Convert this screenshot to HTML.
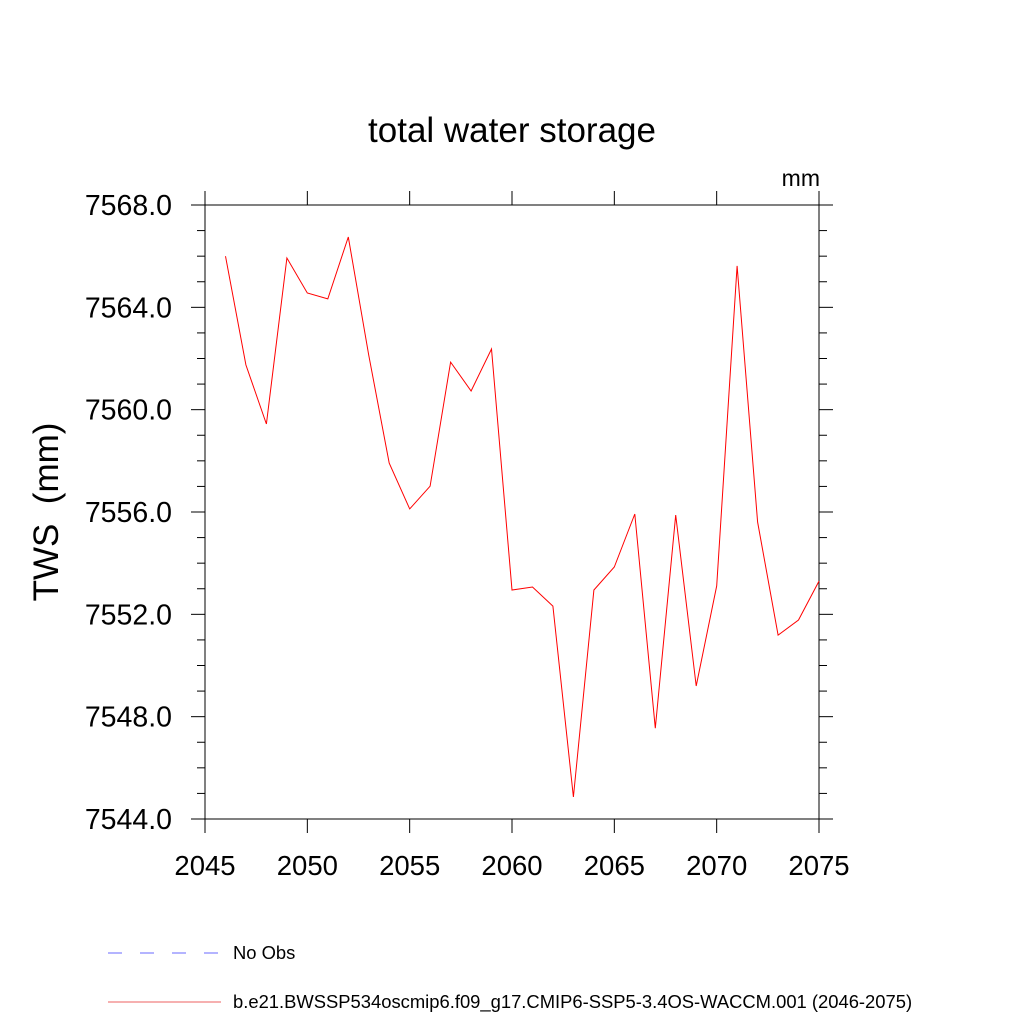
<!DOCTYPE html>
<html><head><meta charset="utf-8"><style>body{margin:0;background:#fff}svg{display:block}text{font-family:"Liberation Sans",sans-serif}</style></head>
<body>
<svg id="chart" width="1024" height="1024" viewBox="0 0 1024 1024">
<text x="512" y="142" font-size="35" text-anchor="middle">total water storage</text>
<text x="820" y="186" font-size="23" text-anchor="end">mm</text>
<text transform="translate(58,512) rotate(-90)" font-size="35" text-anchor="middle" style="white-space:pre">TWS  (mm)</text>
<g id="axes"></g>
<g id="series"></g>
<g>
<line x1="108" y1="953" x2="221" y2="953" stroke="#6a6aff" stroke-width="1" stroke-dasharray="14,18"/>
<text x="233" y="959" font-size="18.4">No Obs</text>
<line x1="108" y1="1002" x2="221" y2="1002" stroke="#ee6060" stroke-width="1"/>
<text x="233" y="1008" font-size="18.4">b.e21.BWSSP534oscmip6.f09_g17.CMIP6-SSP5-3.4OS-WACCM.001 (2046-2075)</text>
</g>
</svg>
<script>
const years=[2046,2047,2048,2049,2050,2051,2052,2053,2054,2055,2056,2057,2058,2059,2060,2061,2062,2063,2064,2065,2066,2067,2068,2069,2070,2071,2072,2073,2074,2075];
const tws=[7566.0,7561.75,7559.44,7565.93,7564.56,7564.33,7566.75,7562.14,7557.91,7556.12,7557.01,7561.86,7560.73,7562.37,7552.95,7553.07,7552.32,7544.86,7552.95,7553.85,7555.92,7547.55,7555.88,7549.20,7553.11,7565.62,7555.61,7551.19,7551.78,7553.30];
const xTicks=[2045,2050,2055,2060,2065,2070,2075];
const yTicks=[7544,7548,7552,7556,7560,7564,7568];
const yTickLabels=["7544.0","7548.0","7552.0","7556.0","7560.0","7564.0","7568.0"];
const L=205,R=819,T=205,B=819,x0=2045,x1=2075,y0=7544,y1=7568;
const sx=v=>L+(v-x0)/(x1-x0)*(R-L);
const sy=v=>B-(v-y0)/(y1-y0)*(B-T);
const NS="http://www.w3.org/2000/svg";
const ax=document.getElementById('axes');
function mk(tag,attrs,parent,txt){const e=document.createElementNS(NS,tag);for(const k in attrs)e.setAttribute(k,attrs[k]);if(txt!==undefined)e.textContent=txt;parent.appendChild(e);return e;}
const frame=mk('rect',{x:L,y:T,width:R-L,height:B-T,fill:'none',stroke:'#000','stroke-width':1},ax);


xTicks.forEach(v=>{const x=sx(v);
 const t1=mk('line',{x1:x,y1:B,x2:x,y2:B+14,stroke:'#000'},ax);
 
 
 const t2=mk('line',{x1:x,y1:T,x2:x,y2:T-14,stroke:'#000'},ax);
 
 
 const lb=mk('text',{x:x,y:875,'font-size':27.5,'text-anchor':'middle'},ax,String(v));
 
 
});
for(let v=y0;v<=y1;v++){const y=sy(v);const major=(v-y0)%4===0;const len=major?14:8;
 const a=mk('line',{x1:L,y1:y,x2:L-len,y2:y,stroke:'#000'},ax);
 
 
 const b=mk('line',{x1:R,y1:y,x2:R+len,y2:y,stroke:'#000'},ax);
 
 
}
yTicks.forEach((v,i)=>{const lb=mk('text',{x:172,y:sy(v)+10,'font-size':28.5,'text-anchor':'end'},ax,yTickLabels[i]);
 
 
});
const pts=years.map((yr,i)=>sx(yr).toFixed(1)+','+sy(tws[i]).toFixed(1)).join(' ');
const line=mk('polyline',{points:pts,fill:'none',stroke:'#ff0000','stroke-width':1},document.getElementById('series'));


</script>
</body></html>
